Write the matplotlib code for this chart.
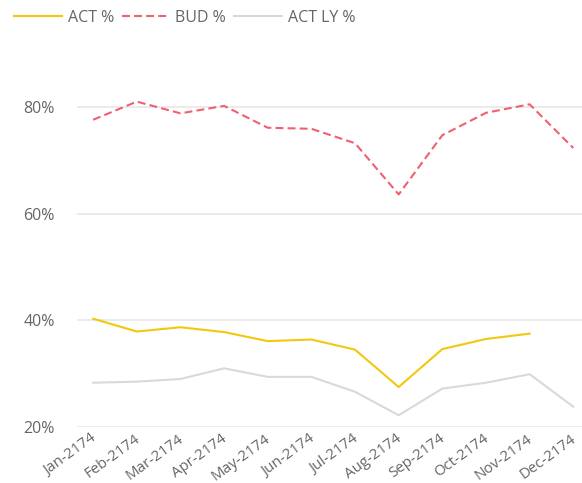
import matplotlib
matplotlib.use("Agg")
import matplotlib.pyplot as plt
import matplotlib.transforms as mtransforms
from matplotlib.ticker import FuncFormatter

months = ["Jan-2174", "Feb-2174", "Mar-2174", "Apr-2174", "May-2174", "Jun-2174",
          "Jul-2174", "Aug-2174", "Sep-2174", "Oct-2174", "Nov-2174", "Dec-2174"]
act = [40.3, 37.9, 38.7, 37.8, 36.1, 36.4, 34.5, 27.5, 34.6, 36.5, 37.5, None]
bud = [77.6, 81.0, 78.8, 80.2, 76.1, 75.9, 73.2, 63.6, 74.7, 78.9, 80.5, 72.3]
act_ly = [28.3, 28.5, 29.0, 31.0, 29.4, 29.4, 26.6, 22.2, 27.2, 28.3, 29.9, 23.8]
yticks = [20, 40, 60, 80]

plt.rcParams['font.family'] = ['Open Sans', 'DejaVu Sans']

fig = plt.figure(figsize=(5.82, 4.83), dpi=100)
ax = fig.add_axes([77/582, 1 - 427/483, (582-77)/582, (427-52)/483])

x = list(range(len(months)))
ax_act = [v for v in act if v is not None]
ax.plot(x[:len(ax_act)], ax_act, color="#F2C80F", lw=1.5, label="ACT %", zorder=3)
ax.plot(x, bud, color="#F0606E", lw=1.5, ls=(0, (3.8, 2.0)), label="BUD %", zorder=3)
ax.plot(x, act_ly, color="#D9D9D9", lw=1.5, label="ACT LY %", zorder=2)

ax.set_ylim(20, 90.3)
ax.set_xlim(-0.37, 11.2)
ax.set_yticks(yticks)
ax.yaxis.set_major_formatter(FuncFormatter(lambda v, p: f"{v:.0f}%"))
ax.grid(axis="y", color="#E8E8E8", lw=1.2)
ax.set_axisbelow(True)
for s in ax.spines.values():
    s.set_visible(False)
ax.tick_params(axis="y", length=0, pad=16, labelsize=11.5, labelcolor="#666666")
ax.set_xticks(x)
ax.set_xticklabels(months, rotation=36, ha="right", rotation_mode="anchor")
ax.tick_params(axis="x", length=0, pad=3, labelsize=10.8, labelcolor="#666666")
offset = mtransforms.ScaledTranslation(-3/100, 0, fig.dpi_scale_trans)
for lbl in ax.get_xticklabels():
    lbl.set_transform(lbl.get_transform() + offset)

leg = fig.legend(loc="upper left", bbox_to_anchor=(0.008, 1.0), ncol=3, frameon=False,
                 fontsize=11.5, handlelength=3.0, handletextpad=0.35, columnspacing=0.5,
                 borderaxespad=0.2)
for t in leg.get_texts():
    t.set_color("#666666")

fig.savefig("out.png", dpi=100)
